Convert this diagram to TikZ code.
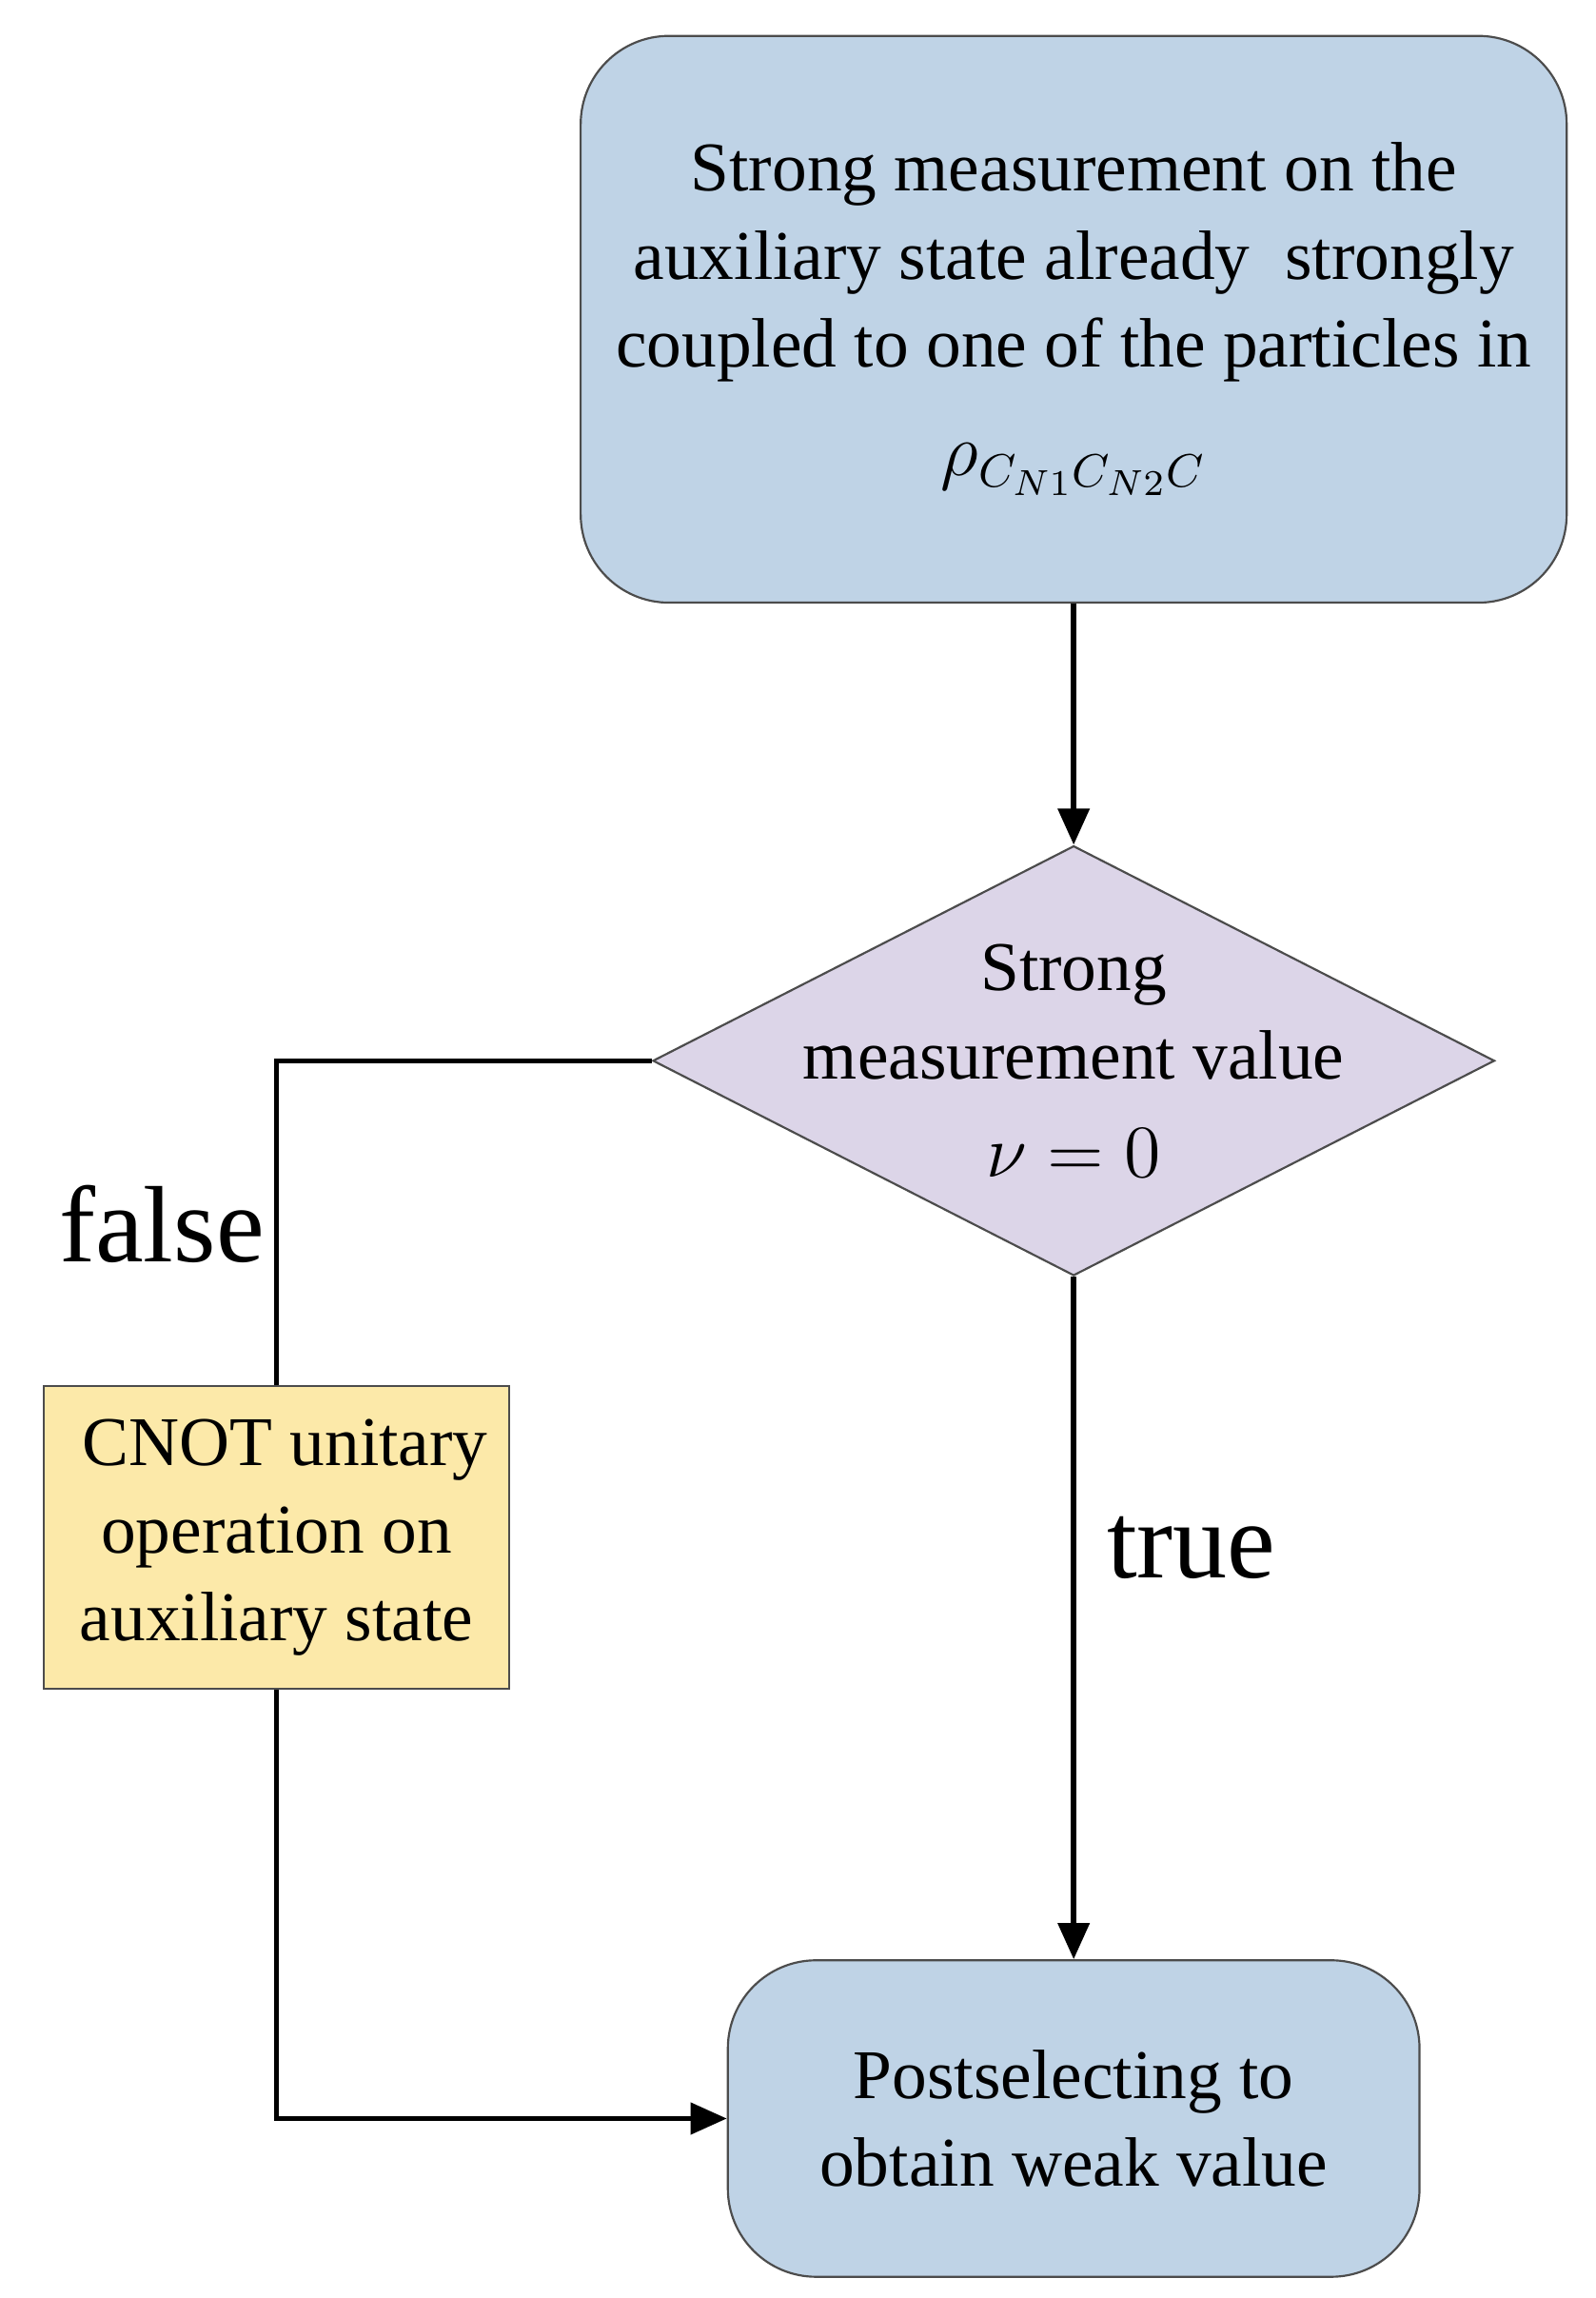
\documentclass[tikz,border=0pt]{standalone}
\usepackage{fontspec}
\setmainfont{Liberation Serif}
\usetikzlibrary{shapes.geometric,arrows.meta}
\definecolor{boxblue}{HTML}{BFD3E6}
\definecolor{diapurple}{HTML}{DCD5E8}
\definecolor{opyellow}{HTML}{FCE9A9}
\begin{document}
\begin{tikzpicture}[x=0.01cm,y=-0.01cm,
    every node/.style={font=\fontsize{13.5}{17}\selectfont},
    blk/.style={draw=black!70,line width=0.4pt,align=center,inner sep=0pt},
    flow/.style={line width=1pt,-{Triangle[length=7pt,width=6pt]}},
    tag/.style={font=\fontsize{21}{24}\selectfont}]

    % Bounding box
    \useasboundingbox (0,0) rectangle (1085,1562);

    % Nodes
    \node[blk,fill=boxblue,rounded corners=0.6cm,minimum width=6.7cm,minimum height=3.85cm]
        (meas) at (730,217) {Strong measurement on the\\ auxiliary state already~~strongly\\ coupled to one of the particles in\\[4pt] $\rho_{C_{N1}C_{N2}C}$};
    \node[blk,fill=diapurple,diamond,minimum width=5.72cm,minimum height=2.92cm]
        (check) at (730,721) {};
    \node[align=center] (checktext) at (730,721) {Strong\\ measurement value\\[2pt] $\nu=0$};
    \node[blk,fill=opyellow,minimum width=3.16cm,minimum height=2.06cm]
        (cnot) at (188,1045) {~CNOT unitary\\ operation on\\ auxiliary state};
    \node[blk,fill=boxblue,rounded corners=0.6cm,minimum width=4.7cm,minimum height=2.15cm]
        (post) at (730,1440) {Postselecting to\\ obtain weak value};

    % Connectors
    \draw[flow] (meas) -- (check);
    \draw[line width=1pt] (check.west) -| (cnot.north);
    \draw[flow] (cnot.south) |- (post.west);
    \draw[flow] (check.south) -- (post.north);

    % Labels
    \node[tag] (falsetag) at (110,832) {false};
    \node[tag] (truetag) at (810,1052) {true};

\end{tikzpicture}
\end{document}
